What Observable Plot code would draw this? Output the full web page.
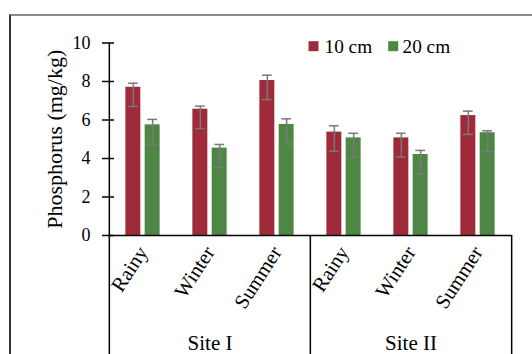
<!DOCTYPE html>
<html>
<head>
<meta charset="utf-8">
<script src="https://cdn.jsdelivr.net/npm/d3@7"></script>
<script src="https://cdn.jsdelivr.net/npm/@observablehq/plot@0.6"></script>
<style>
  html, body { margin: 0; padding: 0; background: #fff; overflow: hidden; }
  #wrap { position: relative; width: 532px; height: 354px; }
  #outer { position: absolute; left: 9px; top: 14px; width: 600px; height: 400px;
           border-top: 2px solid #8a8a8a; border-left: 2px solid #333; pointer-events: none; }
</style>
</head>
<body>
<div id="wrap"><div id="outer"></div></div>
<script>
// ---- data ----
const sites   = ["Site I", "Site I", "Site I", "Site II", "Site II", "Site II"];
const seasons = ["Rainy", "Winter", "Summer", "Rainy", "Winter", "Summer"];
const p10     = [7.70, 6.56, 8.05, 5.37, 5.07, 6.23];
const p10Hi   = [7.91, 6.72, 8.33, 5.70, 5.31, 6.46];
const p10Lo   = [6.70, 5.56, 7.06, 4.38, 4.07, 5.25];
const p20     = [5.75, 4.54, 5.77, 5.07, 4.21, 5.34];
const p20Hi   = [6.03, 4.73, 6.06, 5.31, 4.42, 5.44];
const p20Lo   = [4.73, 3.55, 4.76, 4.07, 3.21, 4.36];
const seriesNames = ["10 cm", "20 cm"];
const yTicks = [0, 2, 4, 6, 8, 10];
const yTitle = "Phosphorus (mg/kg)";

// ---- build table ----
const keys = sites.map((s, i) => s + "|" + seasons[i]);
const rows = keys.map((k, i) => ({
  key: k, site: sites[i], season: seasons[i],
  v10: p10[i], hi10: p10Hi[i], lo10: p10Lo[i],
  v20: p20[i], hi20: p20Hi[i], lo20: p20Lo[i]
}));
const siteLabels = rows.filter(d => d.season === "Winter");

const W = 532, H = 354, ML = 108, MR = 20, MT = 42.5, MB = 119;
const bw = (W - ML - MR) / keys.length;
const RED = "#9E2A3A", GREEN = "#4E8643", ERR = "#7a7a7a";
const off = 9.65, half = 7.65, cap = 5;
const redC = bw / 2 - off, greenC = bw / 2 + off;

const chart = Plot.plot({
  width: W, height: H,
  marginLeft: ML, marginRight: MR, marginTop: MT, marginBottom: MB,
  style: { fontFamily: "'Liberation Serif', 'Times New Roman', serif", fontSize: "18px", color: "#000", background: "transparent", overflow: "visible" },
  x: { domain: keys, padding: 0, axis: null },
  y: { domain: [0, 10], ticks: yTicks, tickSize: 0, tickPadding: 18, label: null },
  marks: [
    Plot.axisX({ tickFormat: k => k.split("|")[1], tickRotate: -57, tickSize: 0, tickPadding: 13, label: null, fontSize: 20.5 }),
    Plot.barY(rows, { x: "key", y: "v10", fill: RED, insetLeft: redC - half, insetRight: bw - redC - half }),
    Plot.barY(rows, { x: "key", y: "v20", fill: GREEN, insetLeft: greenC - half, insetRight: bw - greenC - half }),
    // error bars
    Plot.ruleX(rows, { x: "key", y1: "lo10", y2: "hi10", dx: -off, stroke: ERR, strokeWidth: 1.5 }),
    Plot.ruleX(rows, { x: "key", y1: "lo20", y2: "hi20", dx: off, stroke: ERR, strokeWidth: 1.5 }),
    Plot.tickY(rows, { x: "key", y: "hi10", stroke: ERR, strokeWidth: 1.5, insetLeft: redC - cap, insetRight: bw - redC - cap }),
    Plot.tickY(rows, { x: "key", y: "lo10", stroke: ERR, strokeWidth: 1.5, insetLeft: redC - cap, insetRight: bw - redC - cap }),
    Plot.tickY(rows, { x: "key", y: "hi20", stroke: ERR, strokeWidth: 1.5, insetLeft: greenC - cap, insetRight: bw - greenC - cap }),
    Plot.tickY(rows, { x: "key", y: "lo20", stroke: ERR, strokeWidth: 1.5, insetLeft: greenC - cap, insetRight: bw - greenC - cap }),
    // axes lines
    Plot.ruleY([0], { stroke: "#000", strokeWidth: 1.5 }),
    Plot.tickY(yTicks, { y: d => d, stroke: "#000", strokeWidth: 1.5, insetLeft: -6, insetRight: (W - ML - MR) - 6 }),
    Plot.ruleX([keys[0]], { x: d => d, dx: -bw / 2, stroke: "#000", strokeWidth: 1.5, insetBottom: -MB }),
    Plot.ruleX([keys[3]], { x: d => d, dx: -bw / 2, stroke: "#000", strokeWidth: 1.5, insetTop: H - MT - MB, insetBottom: -MB }),
    Plot.ruleX([keys[5]], { x: d => d, dx: bw / 2, stroke: "#000", strokeWidth: 1.5, insetTop: H - MT - MB, insetBottom: -MB }),
    // site labels
    Plot.text(siteLabels, { x: "key", text: "site", frameAnchor: "bottom", dy: 107.5, fontSize: 21, lineAnchor: "middle" }),
    // y title
    Plot.text([yTitle], { text: d => d, frameAnchor: "left", rotate: -90, dx: -54, fontSize: 22, textAnchor: "middle", lineAnchor: "middle" }),
    // legend
    Plot.dot([seriesNames[0]], { frameAnchor: "top-left", dx: 205, dy: 3.2, symbol: "square", r: 5.64, fill: RED }),
    Plot.dot([seriesNames[1]], { frameAnchor: "top-left", dx: 284.7, dy: 3.2, symbol: "square", r: 5.64, fill: GREEN }),
    Plot.text([seriesNames[0]], { text: d => d, frameAnchor: "top-left", dx: 216, dy: 3.5, textAnchor: "start", lineAnchor: "middle", fontSize: 19.3 }),
    Plot.text([seriesNames[1]], { text: d => d, frameAnchor: "top-left", dx: 294, dy: 3.5, textAnchor: "start", lineAnchor: "middle", fontSize: 19.3 })
  ]
});
chart.style.position = "absolute";
chart.style.left = "0px";
chart.style.top = "0px";
document.getElementById("wrap").appendChild(chart);
</script>
</body>
</html>
